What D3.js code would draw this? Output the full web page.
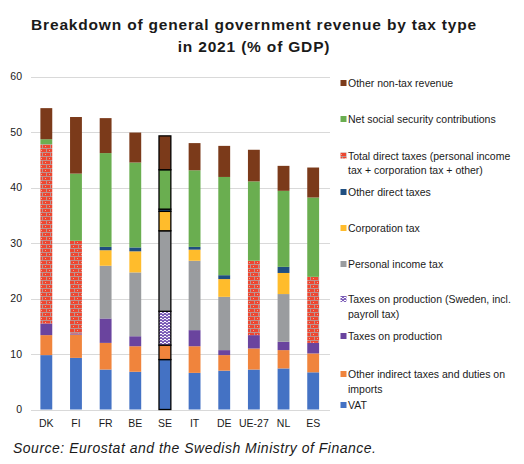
<!DOCTYPE html>
<html><head><meta charset="utf-8">
<script src="https://cdn.jsdelivr.net/npm/d3@7"></script>
<style>body{margin:0;background:#fff}svg{display:block;font-family:Arial,"Liberation Sans",sans-serif}</style>
</head><body>
<svg id="c" width="524" height="464"></svg>
<script>
const countries = ["DK","FI","FR","BE","SE","IT","DE","UE-27","NL","ES"];
// stack order bottom -> top
const seriesKeys = ["vat","otherIndirect","taxProd","taxProdSE","personal","corp","otherDirect","totalDirect","social","nonTax"];
const seriesNames = {
  vat:"VAT",
  otherIndirect:"Other indirect taxes and duties on imports",
  taxProd:"Taxes on production",
  taxProdSE:"Taxes on production (Sweden, incl. payroll tax)",
  personal:"Personal income tax",
  corp:"Corporation tax",
  otherDirect:"Other direct taxes",
  totalDirect:"Total direct taxes (personal income tax + corporation tax + other)",
  social:"Net social security contributions",
  nonTax:"Other non-tax revenue"
};
const vat           = [9.8, 9.3, 7.2, 6.8, 9.0, 6.6, 7.0, 7.2, 7.4, 6.7];
const otherIndirect = [3.6, 4.2, 4.8, 4.6, 2.6, 4.8, 2.8, 3.8, 3.3, 3.4];
const taxProd       = [2.1, 0.2, 4.4, 1.8, 0,   2.9, 0.9, 2.4, 1.5, 1.9];
const taxProdSE     = [0,   0,   0,   0,   6.1, 0,   0,   0,   0,   0  ];
const personal      = [0,   0,   9.5, 11.5,14.5,12.5,9.6, 0,   8.6, 0  ];
const corp          = [0,   0,   2.8, 3.8, 3.5, 2.0, 3.2, 0,   3.8, 0  ];
const otherDirect   = [0,   0,   0.6, 0.7, 0.4, 0.5, 0.7, 0,   1.1, 0  ];
const totalDirect   = [32.3,16.7,0,   0,   0,   0,   0,   13.4,0,   11.9];
const social        = [0.9, 12.1,16.9,15.3,7.1, 13.8,17.7,14.3,13.7,14.3];
const nonTax        = [5.6, 10.2,6.3, 5.4, 6.1, 4.9, 5.6, 5.7, 4.5, 5.4];
const yTicks = [0,10,20,30,40,50,60];
const title = ["Breakdown of general government revenue by tax type","in 2021 (% of GDP)"];
const source = "Source: Eurostat and the Swedish Ministry of Finance.";

const valuesByKey = {vat,otherIndirect,taxProd,taxProdSE,personal,corp,otherDirect,totalDirect,social,nonTax};
const colors = {
  vat:"#4472C4", otherIndirect:"#F0843C", taxProd:"#6A449E", taxProdSE:"url(#patSE)",
  personal:"#9A9C9F", corp:"#FFBC2C", otherDirect:"#1F4E80", totalDirect:"url(#patRed)",
  social:"#6AAE50", nonTax:"#7B3A1A"
};

const rows = countries.map((c,i)=>{const r={country:c}; seriesKeys.forEach(k=>r[k]=valuesByKey[k][i]); return r;});
const stacked = d3.stack().keys(seriesKeys)(rows);

const svg = d3.select("#c");
const FONT = "Arial, 'Liberation Sans', sans-serif";
const defs = svg.append("defs");
// red brick pattern
const pr = defs.append("pattern").attr("id","patRed").attr("patternUnits","userSpaceOnUse").attr("width",8).attr("height",8);
pr.append("rect").attr("width",8).attr("height",8).attr("fill","#EE4630");
pr.append("path").attr("d","M0,0.5H8M0,4.5H8M2.5,0.5V4.5M6.5,4.5V8.5").attr("stroke","#B89A98").attr("stroke-width",0.9);
pr.append("rect").attr("x",5).attr("y",2).attr("width",1).attr("height",1).attr("fill","#F7A090");
pr.append("rect").attr("x",1).attr("y",6).attr("width",1).attr("height",1).attr("fill","#F7A090");
// Sweden purple wave pattern
const ps = defs.append("pattern").attr("id","patSE").attr("patternUnits","userSpaceOnUse").attr("width",4).attr("height",3);
ps.append("rect").attr("width",4).attr("height",3).attr("fill","#7D5FB8");
ps.append("rect").attr("x",0).attr("y",0).attr("width",2).attr("height",1).attr("fill","#fff");
ps.append("rect").attr("x",2).attr("y",1).attr("width",2).attr("height",1).attr("fill","#E6DEF5");

const x = d3.scaleBand().domain(countries).range([31.5,328]).paddingInner(0.6).paddingOuter(0.3);
const y = d3.scaleLinear().domain([0,60]).range([409.5,76.5]);

// gridlines
svg.append("g").selectAll("line").data(yTicks).join("line")
  .attr("x1",31).attr("x2",330).attr("y1",d=>Math.round(y(d))+0.5).attr("y2",d=>Math.round(y(d))+0.5)
  .attr("stroke","#D9D9D9").attr("stroke-width",1);

// y axis labels
const yAxis = svg.append("g").attr("transform","translate(22,0)")
  .call(d3.axisLeft(y).tickValues(yTicks).tickSize(0).tickPadding(0).tickFormat(d3.format("d")));
yAxis.select(".domain").remove();
yAxis.selectAll("text").attr("font-size","10.5px").attr("fill","#1a1a1a").attr("font-family",FONT);

// x axis labels
const xAxis = svg.append("g").attr("transform","translate(0,414)")
  .call(d3.axisBottom(x).tickSize(0).tickPadding(6));
xAxis.select(".domain").remove();
xAxis.selectAll("text").attr("font-size","10.5px").attr("fill","#1a1a1a").attr("font-family",FONT);

// bars
stacked.forEach(s=>{
  svg.append("g").selectAll("rect").data(s.filter(d=>d[1]-d[0]>0)).join("rect")
    .attr("x",d=>x(d.data.country))
    .attr("width",x.bandwidth())
    .attr("y",d=>y(d[1]))
    .attr("height",d=>y(d[0])-y(d[1]))
    .attr("fill",colors[s.key])
    .attr("stroke",d=>d.data.country==="SE"?"#000":"none")
    .attr("stroke-width",d=>d.data.country==="SE"?1.3:0);
});

// legend
const legendOrder = seriesKeys.slice().reverse();
const legendBase = [87,123,159.5,196,232,268,303,340,378,409];
const legendLines = {
  totalDirect:["Total direct taxes (personal income","tax + corporation tax + other)"],
  taxProdSE:["Taxes on production (Sweden, incl.","payroll tax)"],
  otherIndirect:["Other indirect taxes and duties on","imports"]
};
const lg = svg.append("g");
legendOrder.forEach((k,i)=>{
  const by = legendBase[i];
  lg.append("rect").attr("x",340.5).attr("y",by-7).attr("width",6).attr("height",6).attr("fill",colors[k]);
  const lines = legendLines[k] || [seriesNames[k]];
  const t = lg.append("text").attr("x",348).attr("y",by).attr("font-size","10.5px").attr("fill","#1a1a1a").attr("font-family",FONT);
  lines.forEach((ln,j)=>t.append("tspan").attr("x",348).attr("dy",j===0?0:14.5).text(ln));
});

// title
const tt = svg.append("text").attr("x",254).attr("y",30).attr("text-anchor","middle").attr("font-family",FONT)
  .attr("font-size","15.5px").attr("font-weight","bold").attr("letter-spacing","0.82px").attr("fill","#1a1a1a");
title.forEach((ln,j)=>tt.append("tspan").attr("x",254).attr("dy",j===0?0:21.5).text(ln));

// source
svg.append("text").attr("x",13).attr("y",453).attr("font-size","14px").attr("font-style","italic").attr("font-family",FONT)
  .attr("letter-spacing","0.5px").attr("fill","#1a1a1a").text(source);
</script>
</body></html>
